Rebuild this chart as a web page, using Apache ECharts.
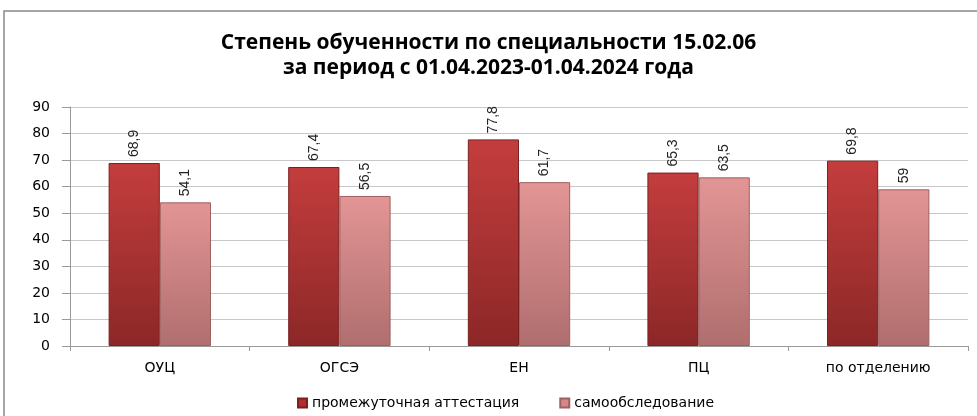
<!DOCTYPE html>
<html>
<head>
<meta charset="utf-8">
<script src="https://cdn.jsdelivr.net/npm/echarts@6/dist/echarts.min.js"></script>
<style>
  html, body { margin: 0; padding: 0; background: #fff; }
  #chart { width: 977px; height: 416px; }
</style>
</head>
<body>
<div id="chart"></div>
<script>
// данные диаграммы
var categories = ["ОУЦ", "ОГСЭ", "ЕН", "ПЦ", "по отделению"];
var interimValues = [68.9, 67.4, 77.8, 65.3, 69.8];
var selfValues = [54.1, 56.5, 61.7, 63.5, 59];
var seriesNames = ["промежуточная аттестация", "самообследование"];

var chart = echarts.init(document.getElementById("chart"));

function grad(top, bottom) {
  return new echarts.graphic.LinearGradient(0, 0, 0, 1, [
    { offset: 0, color: top },
    { offset: 1, color: bottom }
  ]);
}

var labelOpt = {
  show: true,
  position: "top",
  rotate: 90,
  align: "left",
  verticalAlign: "middle",
  distance: 6,
  color: "#222",
  fontSize: 14,
  fontFamily: "Liberation Sans Narrow, Liberation Sans, sans-serif",
  formatter: function (p) {
    return String(p.value).replace(".", ",");
  }
};

var option = {
  animation: false,
  title: {
    text: "Степень обученности по специальности 15.02.06\nза период с 01.04.2023-01.04.2024 года",
    left: "center",
    top: 26,
    textStyle: {
      fontSize: 21,
      fontWeight: "bold",
      fontFamily: "Open Sans, sans-serif",
      color: "#000",
      lineHeight: 25
    }
  },
  graphic: [{
    type: "rect",
    shape: { x: 4, y: 11, width: 1000, height: 500 },
    style: { fill: "none", stroke: "#888", lineWidth: 1.5 },
    silent: true
  }],
  legend: {
    top: 391,
    left: 292,
    itemWidth: 9,
    itemHeight: 9,
    itemGap: 40,
    icon: "rect",
    textStyle: {
      fontSize: 14,
      fontFamily: "DejaVu Sans, sans-serif",
      color: "#000"
    },
    data: [
      { name: seriesNames[0], itemStyle: { color: "#b32f2f" } },
      { name: seriesNames[1], itemStyle: { color: "#d98686" } }
    ]
  },
  grid: {
    left: 70,
    right: 9,
    top: 107,
    bottom: 70
  },
  xAxis: {
    type: "category",
    data: categories,
    axisLine: { lineStyle: { color: "#999" } },
    axisTick: { show: true, length: 5, lineStyle: { color: "#999" } },
    axisLabel: {
      margin: 15,
      fontSize: 14,
      fontFamily: "DejaVu Sans, sans-serif",
      color: "#000"
    }
  },
  yAxis: {
    type: "value",
    min: 0,
    max: 90,
    interval: 10,
    axisLine: { show: true, lineStyle: { color: "#999" } },
    axisTick: { show: true, length: 8, lineStyle: { color: "#999" } },
    splitLine: { lineStyle: { color: "#c8c8c8" } },
    axisLabel: {
      margin: 20,
      fontSize: 14,
      fontFamily: "DejaVu Sans, sans-serif",
      color: "#000"
    }
  },
  series: [
    {
      name: seriesNames[0],
      type: "bar",
      data: interimValues,
      barGap: "0%",
      barCategoryGap: "43%",
      itemStyle: {
        color: grad("#c43d3d", "#8c2727"),
        borderColor: "#7a2020",
        borderWidth: 1
      },
      label: labelOpt
    },
    {
      name: seriesNames[1],
      type: "bar",
      data: selfValues,
      itemStyle: {
        color: grad("#e39595", "#b06e6e"),
        borderColor: "#9e6060",
        borderWidth: 1
      },
      label: labelOpt
    }
  ]
};

chart.setOption(option);
</script>
</body>
</html>
